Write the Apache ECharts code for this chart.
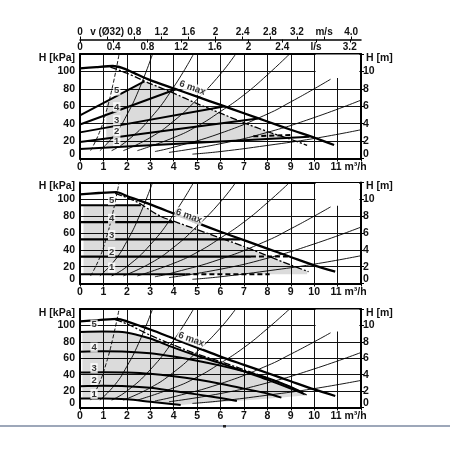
<!DOCTYPE html>
<html><head><meta charset="utf-8">
<script src="https://cdn.jsdelivr.net/npm/echarts@6/dist/echarts.min.js"></script>
<style>html,body{margin:0;padding:0;background:#fff}#c{width:450px;height:450px}</style>
</head><body><div id="c"></div>
<script>
// ---------- axis ticks / labels ----------
const lsTicks = [0,0.4,0.8,1.2,1.6,2,2.4,2.8,3.2];
const lsLabels = ['0','0.4','0.8','1.2','1.6','2','2.4','l/s','3.2'];
const velTicks = [0,0.4,0.8,1.2,1.6,2,2.4,2.8,3.2,3.6,4.0];
const velLabels = ['0','v (Ø32)','0.8','1.2','1.6','2','2.4','2.8','3.2','m/s','4.0'];
const flowMax = 12;           // m3/h
const pipeD = 0.032;          // m (Ø32)

// ---------- system curves (shared by all panels) ----------
const sysA = [[0.45,9],[0.8,28],[1.1,52],[1.4,84],[1.67,120]];
const sysB = [[0.85,9],[1.5,28],[2,50],[2.5,78],[3.1,120]];
const sysC = [[1.35,9],[2,20],[3,46],[4,82],[4.85,120]];
const sysD = [[1.85,9],[3,24],[4,43],[5,68],[6,97],[6.65,120]];
const sysE = [[2.45,9],[4,24],[5,37],[6,54],[7,73],[8,96],[8.95,120]];
const sysF = [[3.2,8],[4,13],[6,29],[8,51],[9,65],[10,80],[10.7,91]];
const sysG = [[3.8,7],[6,17],[8,30],[10,47],[12,67]];
const sysH = [[4.8,5],[6,8],[8,15],[10,23],[12,33]];

// ---------- panel 1 : proportional pressure ----------
const p1Max  = [[0,103.5],[0.7,105],[1.4,106.2],[1.8,104],[2.2,99.5],[3,90],[4,80.5],[5,71],[6,61.5],[7,52],[8,42.5],[9,33],[10,24],[10.85,15.5]];
const p1Dash = [[1.3,105],[2,98],[2.5,92],[3,86],[4,75],[5,63],[6,52],[7,41],[8,31],[9,22],[9.7,15]];
const p1L5 = [[0,49.5],[2.75,88.5]];
const p1L4 = [[0,39],[4.1,79.5]];
const p1L3 = [[0,30],[6.2,60]];
const p1L2 = [[0,19],[7.6,46]];
const p1L1 = [[0,11],[9.8,25]];
const p1Thick = [[7.4,25.5],[9.1,27]];
const p1Shade = [[1.12,12.6],[1.12,65.4],[2.75,88.5],[3,86],[4,75],[5,63],[6,52],[7,41],[8,31],[8.9,23.7],[7.4,21.6],[5,18.2],[3,15.3]];
const p1Labels = [[1.57,78,'5'],[1.57,59,'4'],[1.57,44,'3'],[1.57,31.5,'2'],[1.57,20,'1']];
const p1MaxLabel = [[4.8,81,'6 max']];

// ---------- panel 2 : constant pressure ----------
const p2Max  = [[0,106],[0.8,107.5],[1.55,108.5],[2,104],[3,94],[4,83],[5,72],[6,61.5],[7,51.5],[8,41.5],[9,31.5],[10,21.5],[10.9,14]];
const p2Dash = [[1.5,107],[2,102],[2.5,96],[3,87],[3.5,79],[4,74],[5,64],[6,54],[7,44],[8,33],[9,22],[9.76,14]];
const p2L5 = [[0,93],[2.6,93]];
const p2L4 = [[0,73],[4.0,73]];
const p2L3 = [[0,52.5],[6.85,52.5]];
const p2L2 = [[0,32],[7.3,32]];
const p2L2d = [[7.3,32],[8.9,32]];
const p2L1 = [[0,11],[4.5,11]];
const p2L1d = [[4.5,11],[8.1,11]];
const p2Shade = [[0.15,11],[0.15,93],[2.6,93],[3,87],[3.5,79],[4,74],[5,64],[6,54],[7,44],[8,33],[9,22],[9.7,15],[9.7,11]];
const p2Labels = [[1.35,99,'5'],[1.35,77,'4'],[1.35,57.5,'3'],[1.35,37.5,'2'],[1.35,19,'1']];
const p2MaxLabel = [[4.65,80,'6 max']];

// ---------- panel 3 : constant speed ----------
const p3Max  = [[0,105],[0.8,106.5],[1.6,108],[2,105],[3,95],[4,84],[5,73],[6,62],[7,52],[8,42],[9,32],[10,22],[10.9,14]];
const p3Dash = [[1.5,107],[2,102],[3,88],[4,76],[5,65],[6,56],[7,46],[8,36],[9,25],[9.7,15]];
const p3C5 = [[0,92],[1,92.5],[1.8,92],[2.5,88],[3,84],[4,73],[5,63],[6,54],[7,44],[8,34],[9,23],[9.6,16]];
const p3C4 = [[0,68],[1,68.5],[2,68],[3,66],[4,62],[5,57],[6,51],[7,44],[8,36],[9,25],[9.5,18]];
const p3C3 = [[0,42.5],[1,43],[2,42.5],[3,41],[4,38],[5,34],[6,29],[7,23],[8,17],[8.6,12]];
const p3C2 = [[0,26],[1,26.5],[2,26],[3,24],[4,20],[5,16],[6,11.5],[6.7,8]];
const p3C1 = [[0,11],[1,11],[2,10],[3,7],[4,4],[4.3,3]];
const p3Shade = [[0.1,11],[0.1,92],[1.8,92],[2.5,88],[3,84],[4,74],[5,64],[6,55],[7,45],[8,35],[9,24],[9.7,15],[8.5,12],[6.7,8],[5,5],[4.3,3],[3,7],[2,10]];
const p3Labels = [[0.6,101,'5'],[0.6,73,'4'],[0.6,48,'3'],[0.6,33.5,'2'],[0.6,16.5,'1']];
const p3MaxLabel = [[4.75,83,'6 max']];

// ---------- chart ----------
const FONT = "'Liberation Sans',Arial,sans-serif";
const tops = [54, 182.5, 309];
const heights = [104.5, 101, 98.5];
const chart = echarts.init(document.getElementById('c'), null, {renderer:'canvas'});

function pick(ticks, labels){
  return function(v){
    const i = ticks.findIndex(t => Math.abs(t - v) < 1e-6);
    return i < 0 ? '' : labels[i];
  };
}
const lbl = {fontFamily:FONT, fontSize:10.5, fontWeight:'bold', color:'#111'};
const lblTop = {fontFamily:FONT, fontSize:10, fontWeight:'bold', color:'#111'};

const grid = tops.map((t,i)=>({left:80, top:t, width:281, height:heights[i]}));
const xAxis = [];
const yAxis = [];
const bx = [], ly = [];
tops.forEach((t,g)=>{
  bx[g] = xAxis.length;
  xAxis.push({gridIndex:g, type:'value', position:'bottom', min:0, max:flowMax, interval:1,
    axisLine:{onZero:false, lineStyle:{color:'#000', width:2}},
    axisTick:{show:true, length:3, lineStyle:{color:'#000', width:1}},
    axisLabel:Object.assign({}, lbl, {margin:3,
      formatter: v => v === 11 ? '{u|11 m³/h}' : (v > 11 ? '' : String(v)),
      rich:{u:Object.assign({}, lbl, {padding:[0,0,0,22]})}}),
    splitLine:{show:true, lineStyle:{color:'#111', width:1}}});
  if (g === 0) {
    xAxis.push({gridIndex:0, type:'value', position:'top', min:0, max:flowMax/3.6,
      axisLine:{onZero:false, lineStyle:{color:'#000', width:2}},
      axisTick:{show:false},
      axisLabel:Object.assign({}, lblTop, {margin:2, customValues:lsTicks, formatter:pick(lsTicks, lsLabels)}),
      splitLine:{show:false}});
    const area = Math.PI * pipeD * pipeD / 4 * 3600;
    xAxis.push({gridIndex:0, type:'value', position:'top', offset:14.5, min:0, max:flowMax/area,
      axisLine:{onZero:false, lineStyle:{color:'#000', width:1.5}},
      axisTick:{show:true, length:3, customValues:velTicks, lineStyle:{color:'#000'}},
      axisLabel:Object.assign({}, lblTop, {margin:2, customValues:velTicks, formatter:pick(velTicks, velLabels)}),
      splitLine:{show:false}});
    xAxis.push({gridIndex:0, type:'value', position:'top', offset:14.5, min:0, max:flowMax/3.6,
      axisLine:{show:false, onZero:false},
      axisTick:{show:true, inside:true, length:3, customValues:lsTicks, lineStyle:{color:'#000'}},
      axisLabel:{show:false}, splitLine:{show:false}});
  } else {
    xAxis.push({gridIndex:g, type:'value', position:'top', min:0, max:flowMax,
      axisLine:{onZero:false, lineStyle:{color:'#000', width:2}},
      axisTick:{show:false}, axisLabel:{show:false}, splitLine:{show:false}});
  }
  ly[g] = yAxis.length;
  yAxis.push({gridIndex:g, type:'value', position:'left', min:0, max:120, interval:20,
    name:'H [kPa]', nameLocation:'end', nameGap:-4,
    nameTextStyle:Object.assign({}, lbl, {align:'right', verticalAlign:'middle', padding:[0,5,0,0]}),
    axisLine:{onZero:false, lineStyle:{color:'#000', width:2}},
    axisTick:{show:false},
    axisLabel:Object.assign({}, lbl, {margin:5,
      formatter: v => v === 0 ? '{z|0}' : (v >= 120 ? '' : String(v)),
      rich:{z:Object.assign({}, lbl, {padding:[0,0,9,0]})}}),
    splitLine:{show:true, lineStyle:{color:'#111', width:1}}});
  yAxis.push({gridIndex:g, type:'value', position:'right', min:0, max:12, interval:2,
    name:'H [m]', nameLocation:'end', nameGap:-4,
    nameTextStyle:Object.assign({}, lbl, {align:'left', verticalAlign:'middle', padding:[0,0,0,5]}),
    axisLine:{onZero:false, lineStyle:{color:'#000', width:2}},
    axisTick:{show:true, length:3, lineStyle:{color:'#000'}},
    axisLabel:Object.assign({}, lbl, {margin:2,
      formatter: v => v === 0 ? '{z|0}' : (v >= 12 ? '' : String(v)),
      rich:{z:Object.assign({}, lbl, {padding:[0,0,9,0]})}}),
    splitLine:{show:false}});
});

const series = [];
function ln(g, data, style, extra){
  series.push(Object.assign({type:'line', data:data, xAxisIndex:bx[g], yAxisIndex:ly[g],
    symbol:'none', silent:true, animation:false, z:3, lineStyle:Object.assign({color:'#000'}, style)}, extra || {}));
}
function shade(g, pts){
  series.push({type:'custom', xAxisIndex:bx[g], yAxisIndex:ly[g], data:[[0,0]], silent:true, animation:false, z:1,
    renderItem:function(params, api){
      return {type:'polygon', shape:{points:pts.map(p => api.coord(p))}, style:{fill:'rgba(0,0,0,0.14)'}};
    }});
}
function labels(g, arr, rot){
  series.push({type:'scatter', xAxisIndex:bx[g], yAxisIndex:ly[g], symbolSize:1, silent:true, animation:false, z:8,
    itemStyle:{color:'rgba(0,0,0,0)'},
    data:arr.map(a => ({value:[a[0], a[1]], name:a[2]})),
    label:{show:true, position:'inside', formatter:'{b}', fontFamily:FONT, fontSize:9.5, fontWeight:'bold', color:'#000',
      backgroundColor:'#fff', padding:[0,1], rotate:rot || 0}});
}
function systemCurves(g){
  ln(g, sysA, {width:0.9, type:[4,2]}, {smooth:true});
  [sysB, sysC, sysD, sysE, sysF, sysG, sysH].forEach(s => ln(g, s, {width:0.9}, {smooth:true}));
}
function maxCurve(g, data){
  ln(g, data, {width:2.3}, {smooth:0.25, z:5,
    markArea:{silent:true, itemStyle:{color:'#fff'}, data:[[{coord:[10.06,92.5]},{coord:[11.93,119.3]}]]}});
}

// panel 1
shade(0, p1Shade);
systemCurves(0);
[p1L5, p1L4, p1L3, p1L2, p1L1].forEach(d => ln(0, d, {width:2}));
ln(0, p1Thick, {width:2, type:[5,3]});
ln(0, p1Dash, {width:1.3, type:[7,2,2,2]}, {smooth:0.25});
maxCurve(0, p1Max);
labels(0, p1Labels);
labels(0, p1MaxLabel, -20);

// panel 2
shade(1, p2Shade);
systemCurves(1);
[p2L5, p2L4, p2L3, p2L2, p2L1].forEach(d => ln(1, d, {width:2.2}));
[p2L2d, p2L1d].forEach(d => ln(1, d, {width:2, type:[5,3]}));
ln(1, p2Dash, {width:1.3, type:[7,2,2,2]}, {smooth:0.25});
maxCurve(1, p2Max);
labels(1, p2Labels);
labels(1, p2MaxLabel, -20);

// panel 3
shade(2, p3Shade);
systemCurves(2);
[p3C5, p3C4, p3C3, p3C2, p3C1].forEach(d => ln(2, d, {width:2}, {smooth:0.3}));
ln(2, p3Dash, {width:1.3, type:[7,2,2,2]}, {smooth:0.25, z:4});
maxCurve(2, p3Max);
labels(2, p3Labels);
labels(2, p3MaxLabel, -20);

// mode icons and bottom rule
const S = {stroke:'#000', lineWidth:1, fill:null};
function base(l, b){
  return [
    {type:'line', shape:{x1:l-2, y1:b, x2:l+14, y2:b}, style:{stroke:'#000', lineWidth:1.2}},
    {type:'line', shape:{x1:l-2, y1:b+2, x2:l+14, y2:b+2}, style:{stroke:'#999', lineWidth:1}},
    {type:'line', shape:{x1:l, y1:b-11, x2:l, y2:b}, style:S}
  ];
}
const graphics = [];
(function(){
  const l = 339;
  let b = tops[0] + 18;
  graphics.push(...base(l,b),
    {type:'arc', shape:{cx:l, cy:b, r:11, startAngle:-Math.PI/2, endAngle:-0.12, clockwise:true}, style:S},
    {type:'line', shape:{x1:l, y1:b-1, x2:l+11, y2:b-6}, style:S});
  b = tops[1] + 17;
  graphics.push(...base(l,b),
    {type:'arc', shape:{cx:l, cy:b, r:11, startAngle:-Math.PI/2, endAngle:-0.12, clockwise:true}, style:S},
    {type:'line', shape:{x1:l, y1:b-5, x2:l+10, y2:b-5}, style:S});
  b = tops[2] + 16;
  graphics.push(...base(l,b));
  [5, 8, 11].forEach(r => graphics.push({type:'arc', shape:{cx:l, cy:b, r:r, startAngle:-Math.PI/2, endAngle:-0.12, clockwise:true}, style:S}));
  graphics.push({type:'line', shape:{x1:0, y1:426, x2:450, y2:426}, style:{stroke:'#7c8aa2', lineWidth:1.5}});
  graphics.push({type:'rect', shape:{x:223, y:425, width:3, height:2.5}, style:{fill:'#222'}});
})();

chart.setOption({
  animation:false,
  backgroundColor:'#fff',
  grid:grid, xAxis:xAxis, yAxis:yAxis, series:series,
  graphic:{elements:graphics}
});
</script>
</body></html>
